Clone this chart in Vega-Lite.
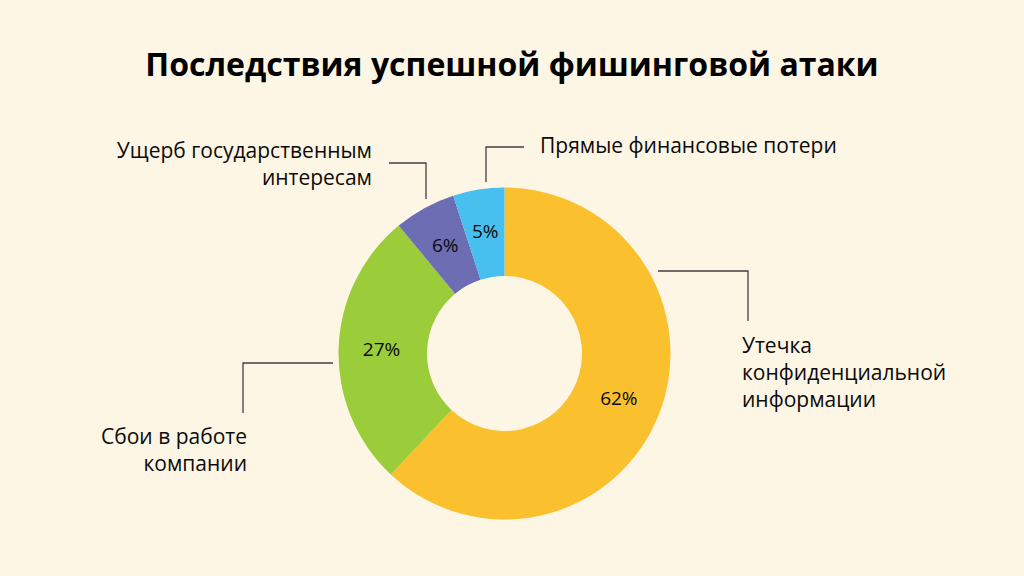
{
  "$schema": "https://vega.github.io/schema/vega-lite/v6.json",
  "width": 1024,
  "height": 576,
  "padding": 0,
  "autosize": {"type": "none"},
  "background": "#FEF6E4",
  "title": {
    "text": "Последствия успешной фишинговой атаки",
    "font": "Open Sans",
    "fontSize": 32,
    "fontWeight": "bold",
    "color": "#000000",
    "anchor": "middle",
    "frame": "group",
    "baseline": "alphabetic",
    "offset": -108
  },
  "config": {"view": {"stroke": null}},
  "datasets": {
    "slices": [
      {"category": "Утечка конфиденциальной информации", "value": 62, "pct": "62%", "order": 1},
      {"category": "Сбои в работе компании", "value": 27, "pct": "27%", "order": 2},
      {"category": "Ущерб государственным интересам", "value": 6, "pct": "6%", "order": 3},
      {"category": "Прямые финансовые потери", "value": 5, "pct": "5%", "order": 4}
    ],
    "callouts": [
      {"lines": ["Прямые финансовые потери"], "x": 540, "y": 153, "side": "right"},
      {"lines": ["Утечка", "конфиденциальной", "информации"], "x": 742, "y": 353, "side": "right"},
      {"lines": ["Ущерб государственным", "интересам"], "x": 372, "y": 158, "side": "left"},
      {"lines": ["Сбои в работе", "компании"], "x": 247, "y": 444, "side": "left"}
    ],
    "leaders": [
      {"id": "blue", "seq": 1, "x": 486, "y": 182},
      {"id": "blue", "seq": 2, "x": 486, "y": 147},
      {"id": "blue", "seq": 3, "x": 524, "y": 147},
      {"id": "purple", "seq": 1, "x": 389, "y": 163},
      {"id": "purple", "seq": 2, "x": 426, "y": 163},
      {"id": "purple", "seq": 3, "x": 426, "y": 199},
      {"id": "yellow", "seq": 1, "x": 658, "y": 271},
      {"id": "yellow", "seq": 2, "x": 748, "y": 271},
      {"id": "yellow", "seq": 3, "x": 748, "y": 321},
      {"id": "green", "seq": 1, "x": 333, "y": 363},
      {"id": "green", "seq": 2, "x": 243, "y": 363},
      {"id": "green", "seq": 3, "x": 243, "y": 413}
    ]
  },
  "layer": [
    {
      "data": {"name": "slices"},
      "mark": {"type": "arc", "innerRadius": 77.5, "outerRadius": 166},
      "encoding": {
        "theta": {"field": "value", "type": "quantitative", "stack": true},
        "order": {"field": "order", "type": "quantitative"},
        "color": {
          "field": "category",
          "type": "nominal",
          "scale": {
            "domain": ["Утечка конфиденциальной информации", "Сбои в работе компании", "Ущерб государственным интересам", "Прямые финансовые потери"],
            "range": ["#FBC02D", "#9BCC3A", "#6C6DB3", "#47BFEF"]
          },
          "legend": null
        },
        "x": {"datum": 504.5, "type": "quantitative", "scale": {"domain": [0, 1024], "nice": false, "zero": false}, "axis": null},
        "y": {"datum": 353.5, "type": "quantitative", "scale": {"domain": [0, 576], "nice": false, "zero": false, "reverse": true}, "axis": null}
      }
    },
    {
      "data": {"name": "slices"},
      "mark": {"type": "text", "radius": 123, "font": "Open Sans", "fontSize": 19, "fontWeight": 500, "color": "#0A0A0A", "align": "center", "baseline": "middle"},
      "encoding": {
        "theta": {"field": "value", "type": "quantitative", "stack": true},
        "order": {"field": "order", "type": "quantitative"},
        "text": {"field": "pct", "type": "nominal"},
        "x": {"datum": 504.5, "type": "quantitative"},
        "y": {"datum": 353.5, "type": "quantitative"}
      }
    },
    {
      "data": {"name": "leaders"},
      "mark": {"type": "line", "color": "#404040", "strokeWidth": 1.3, "interpolate": "linear"},
      "encoding": {
        "x": {"field": "x", "type": "quantitative"},
        "y": {"field": "y", "type": "quantitative"},
        "detail": {"field": "id", "type": "nominal"},
        "order": {"field": "seq", "type": "quantitative"}
      }
    },
    {
      "data": {"name": "callouts"},
      "transform": [{"filter": "datum.side === 'right'"}],
      "mark": {"type": "text", "font": "Open Sans", "fontSize": 21, "fontWeight": 500, "color": "#0A0A0A", "align": "left", "baseline": "alphabetic", "lineHeight": 27},
      "encoding": {
        "text": {"field": "lines"},
        "x": {"field": "x", "type": "quantitative"},
        "y": {"field": "y", "type": "quantitative"}
      }
    },
    {
      "data": {"name": "callouts"},
      "transform": [{"filter": "datum.side === 'left'"}],
      "mark": {"type": "text", "font": "Open Sans", "fontSize": 21, "fontWeight": 500, "color": "#0A0A0A", "align": "right", "baseline": "alphabetic", "lineHeight": 27},
      "encoding": {
        "text": {"field": "lines"},
        "x": {"field": "x", "type": "quantitative"},
        "y": {"field": "y", "type": "quantitative"}
      }
    }
  ]
}
